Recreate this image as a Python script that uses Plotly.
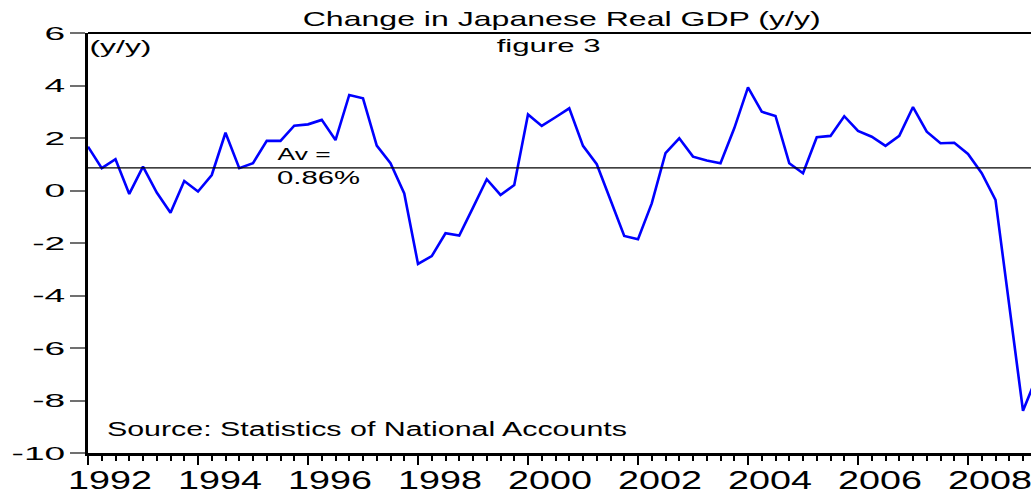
import json
import plotly.graph_objects as go

# ---------------- data ----------------
first_year = 1992          # first observation: 1992Q1 (quarterly series)
gdp_yy = [
    1.67, 0.85, 1.19, -0.13, 0.91, -0.08, -0.85, 0.36,     # 1992-1993
    -0.04, 0.59, 2.20, 0.85, 1.04, 1.89, 1.89, 2.47,       # 1994-1995
    2.52, 2.69, 1.92, 3.64, 3.51, 1.71, 1.04, -0.11,       # 1996-1997
    -2.80, -2.50, -1.63, -1.72, -0.65, 0.43, -0.17, 0.21,  # 1998-1999
    2.90, 2.46, 2.79, 3.13, 1.70, 1.00, -0.36, -1.73,      # 2000-2001
    -1.86, -0.49, 1.42, 1.99, 1.29, 1.14, 1.04, 2.37,      # 2002-2003
    3.93, 3.00, 2.84, 1.04, 0.66, 2.03, 2.08, 2.83,        # 2004-2005
    2.27, 2.05, 1.70, 2.08, 3.18, 2.24, 1.80, 1.82,        # 2006-2007
    1.39, 0.66, -0.36, -4.43, -8.39, -7.10,                # 2008-2009Q2
]
quarters = [f"{first_year + i // 4}Q{i % 4 + 1}" for i in range(len(gdp_yy))]
average = 0.86
y_ticks = [-10, -8, -6, -4, -2, 0, 2, 4, 6]
y_labels = ["-10", "-8", "-6", "-4", "-2", "0", "2", "4", "6"]
year_ticks = list(range(1992, 2010))
year_labels = [str(y) if y % 2 == 0 else "" for y in year_ticks]

title_text = "Change in Japanese Real GDP (y/y)"
unit_text = "(y/y)"
figure_text = "figure 3"
avg_text_1 = "Av ="
avg_text_2 = "0.86%"
source_text = "Source: Statistics of National Accounts"

# convert quarter labels to decimal year positions
x_pos = [int(q[:4]) + (int(q[-1]) - 1) / 4 for q in quarters]
quarter_ticks = [first_year + i / 4 for i in range(4 * (year_ticks[-1] - first_year) + 1)]

# ---------------- layout geometry ----------------
W, H = 1031, 489
ML, MR, MT, MB = 88, 0, 33, 36
PW, PH = W - ML - MR, H - MT - MB
x_end = first_year + PW / 55.0

def px(xp):
    return (xp - ML) / PW

def py(yp):
    return (H - MB - yp) / PH

FONT = "Liberation Sans, Arial, Helvetica, sans-serif"

fig = go.Figure()
fig.add_trace(go.Scatter(
    x=x_pos, y=gdp_yy, mode="lines",
    line=dict(color="#0000ff", width=2.6),
    showlegend=False, hoverinfo="x+y",
))

fig.add_shape(type="line", xref="paper", yref="y", x0=0, x1=1,
              y0=average, y1=average, line=dict(color="black", width=1.2))
fig.add_shape(type="line", xref="paper", yref="paper", x0=0, x1=1,
              y0=1, y1=1, line=dict(color="black", width=2.2))

# (text, centre x px, centre y px, font size, target width px)
texts = [
    (title_text, 561, 19, 21, 518),
    (unit_text, 120.5, 46.5, 19, 62),
    (figure_text, 548, 45.5, 19, 104),
    (avg_text_1, 303.5, 154, 17, 53),
    (avg_text_2, 318.5, 177.5, 18, 83),
    (source_text, 366.7, 429, 19.5, 520),
]
ann = []
for t, cx, cy, fs, _w in texts:
    ann.append(dict(text=t, x=px(cx), y=py(cy), xref="paper", yref="paper",
                    xanchor="center", yanchor="middle", showarrow=False,
                    font=dict(size=fs, color="black", family=FONT)))

fig.update_layout(
    width=W, height=H,
    margin=dict(l=ML, r=MR, t=MT, b=MB, pad=0),
    paper_bgcolor="white", plot_bgcolor="white",
    annotations=ann,
    xaxis=dict(
        range=[first_year, x_end], automargin=False,
        tickmode="array", tickvals=year_ticks, ticktext=year_labels,
        ticks="outside", ticklen=9, tickwidth=2, tickcolor="black",
        minor=dict(tickmode="array", tickvals=quarter_ticks, ticks="outside",
                   ticklen=5, tickwidth=1.6, tickcolor="black", showgrid=False),
        showline=True, linewidth=3, linecolor="black",
        showgrid=False, zeroline=False,
        tickfont=dict(size=26, color="black", family=FONT),
        ticklabelshift=22, ticklabelstandoff=-7,
    ),
    yaxis=dict(
        range=[-10, 6], automargin=False,
        tickmode="array", tickvals=y_ticks, ticktext=y_labels,
        ticks="outside", ticklen=15, tickwidth=1.5, tickcolor="#707070",
        showline=True, linewidth=3, linecolor="black",
        showgrid=False, zeroline=False,
        tickfont=dict(size=19, color="black", family=FONT),
        ticklabelstandoff=1,
    ),
)

# The page's default body margin would shift the chart; remove it.  The
# reference draws its (Arial-like) text horizontally widened; reproduce that
# by stretching the real SVG text to the measured widths.
widths = [w for *_, w in texts]
post = """
(function(){
  document.documentElement.style.margin = '0';
  document.documentElement.style.overflow = 'hidden';
  document.body.style.margin = '0';
  document.body.style.padding = '0';
  document.body.style.overflow = 'hidden';
  var gd = document.getElementById('{plot_id}');
  var widths = %s;
  var xf = 1.45, yf = 1.95;
  function fit(t, w){
    t.setAttribute('lengthAdjust', 'spacingAndGlyphs');
    t.setAttribute('textLength', w);
  }
  function stretch(){
    gd.querySelectorAll('g.annotation').forEach(function(g){
      var i = parseInt(g.getAttribute('data-index'));
      var t = g.querySelector('text.annotation-text');
      if (t && widths[i]) fit(t, widths[i]);
    });
    gd.querySelectorAll('g.xtick > text, g.ytick > text').forEach(function(t){
      t.removeAttribute('textLength');
      var L = t.getComputedTextLength();
      if (!L) return;
      var f = t.parentNode.classList.contains('xtick') ? xf : yf;
      fit(t, L * f);
    });
  }
  stretch();
  gd.on('plotly_afterplot', stretch);
  if (document.fonts && document.fonts.ready) document.fonts.ready.then(stretch);
  setTimeout(stretch, 60);
})();
""" % json.dumps(widths)

fig.write_html("out.html", post_script=post, config={"displayModeBar": False})
